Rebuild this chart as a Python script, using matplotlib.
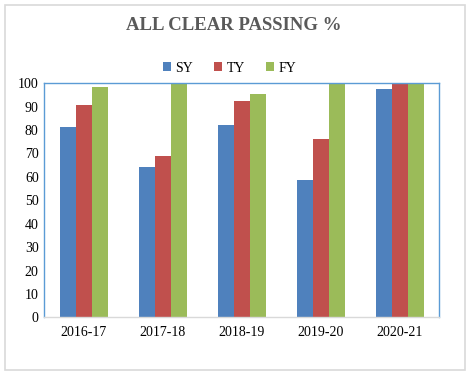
import numpy as np
import matplotlib.pyplot as plt
from matplotlib.patches import Rectangle

years = ["2016-17", "2017-18", "2018-19", "2019-20", "2020-21"]
series = ["SY", "TY", "FY"]
sy = [81.3, 64.2, 82.2, 58.7, 97.6]
ty = [90.7, 68.9, 92.4, 76.2, 100]
fy = [98.4, 100, 95.4, 100, 100]
colors = ["#4f81bd", "#c0504d", "#9bbb59"]

plt.rcParams["font.family"] = ["Liberation Serif", "DejaVu Serif"]

fig = plt.figure(figsize=(4.68, 3.76), dpi=100)
ax = fig.add_axes([44.3 / 468, 1 - 317.3 / 376, 395 / 468, 234 / 376])

# outer chart border
fig.patches.append(Rectangle((5 / 468, 1 - 370 / 376), 460 / 468, 365 / 376,
                             transform=fig.transFigure, fill=False,
                             edgecolor="#d9d9d9", linewidth=1.2))

x = np.arange(len(years))
w = 0.2025
handles = []
for i, (vals, name) in enumerate(zip([sy, ty, fy], series)):
    b = ax.bar(x + (i - 1) * w, vals, width=w, color=colors[i], label=name)
    handles.append(b)

ax.set_xlim(-0.5, len(years) - 0.5)
ax.set_ylim(0, 100)
ax.set_yticks(range(0, 101, 10))
ax.set_xticks(x)
ax.set_xticklabels(years)
ax.tick_params(axis="both", length=0, labelsize=10, colors="black")
ax.tick_params(axis="y", pad=4)
ax.tick_params(axis="x", pad=6)

for s in ["left", "top", "right"]:
    ax.spines[s].set_color("#5b9bd5")
    ax.spines[s].set_linewidth(1.0)
ax.spines["bottom"].set_color("#d9d9d9")
ax.spines["bottom"].set_linewidth(1.0)

fig.text(0.5, 1 - 25 / 376, "ALL CLEAR PASSING %", ha="center", va="center",
         fontsize=13.5, fontweight="bold", color="#595959")

fig.legend(handles=handles, labels=series, loc="center",
           bbox_to_anchor=(0.49, 1 - 68 / 376), ncol=3, frameon=False,
           fontsize=10, handlelength=0.6, handleheight=0.6,
           handletextpad=0.3, columnspacing=1.5)

plt.savefig("out.png", dpi=100)
